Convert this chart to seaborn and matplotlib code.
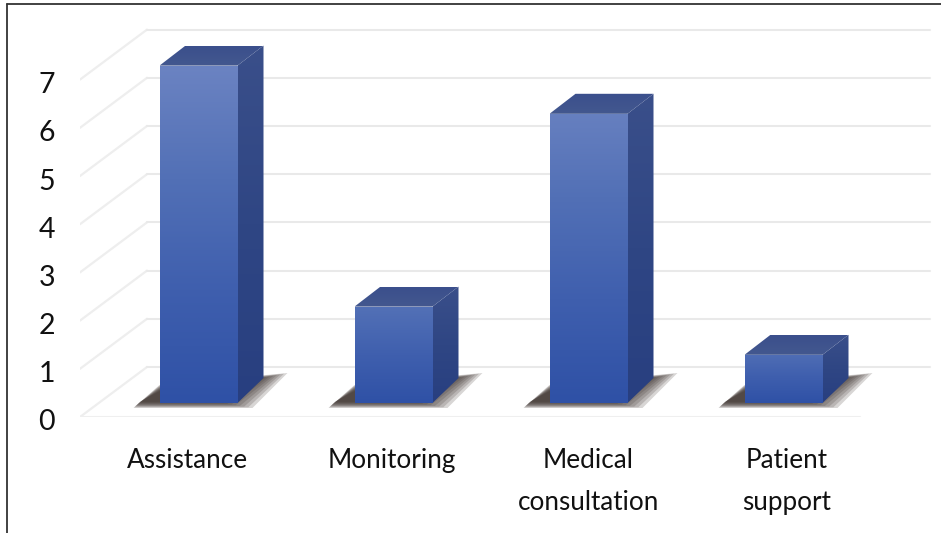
import numpy as np
import pandas as pd
import matplotlib
matplotlib.use('Agg')
import matplotlib.pyplot as plt
import seaborn as sns
from matplotlib.colors import LinearSegmentedColormap
from matplotlib.lines import Line2D
from matplotlib.patches import Polygon
from matplotlib.transforms import ScaledTranslation

categories = ['Assistance', 'Monitoring', 'Medical\nconsultation', 'Patient\nsupport']
values = [7, 2, 6, 1]
y_ticks = [0, 1, 2, 3, 4, 5, 6, 7]

# one category is 195 px wide, one unit is 48.2 px tall
XPX = 1 / 195
YPX = 1 / 48.2
BAR_LIFT = 14 * YPX  # bars stand a little behind the front edge of the floor

sns.set_theme(style='white')
plt.rcParams['font.family'] = ['Lato', 'DejaVu Sans']

df = pd.DataFrame({'category': categories, 'value': values})

fig = plt.figure(figsize=(9.41, 5.33), dpi=100)
ax = fig.add_axes([80 / 941, 1 - 417 / 533, 860 / 941, 397 / 533])
sns.barplot(data=df, x='category', y='value', color='#3f5fae', width=0.4,
            bottom=BAR_LIFT, ax=ax, zorder=3, saturation=1, linewidth=0)

xlim = (-118.5 * XPX, 741.5 * XPX)
ylim = (0, 397 * YPX)


def fade(colors):
    return LinearSegmentedColormap.from_list('fade', colors)


def paint(poly, cmap, zorder, start=0.0):
    # vertical gradient clipped to the polygon
    pts = np.array(poly)
    patch = Polygon(pts, closed=True, facecolor='none', edgecolor='none', zorder=zorder)
    ax.add_patch(patch)
    grad = np.linspace(start, 1, 128).reshape(-1, 1)
    im = ax.imshow(grad, cmap=cmap, vmin=0, vmax=1, aspect='auto', zorder=zorder,
                   interpolation='bilinear', origin='upper',
                   extent=(pts[:, 0].min(), pts[:, 0].max(), pts[:, 1].min(), pts[:, 1].max()))
    im.set_clip_path(patch)


# grid: front edge, then the lines along the back wall
depth_x = 67 * XPX
depth_y = 50 * YPX
for v in y_ticks:
    ax.plot([xlim[0], xlim[0] + depth_x], [v, v + depth_y], color='#eeeeee', lw=1.6, zorder=1)
    ax.plot([xlim[0] + depth_x, xlim[1] - 10 * XPX], [v + depth_y, v + depth_y],
            color='#e9e9e9', lw=1.5, zorder=1)
ax.plot([xlim[0], xlim[1] - 80 * XPX], [0, 0], color='#efefef', lw=1.5, zorder=1)

front_cmap = fade(['#6b83c2', '#5270b6', '#3f5fae', '#2f51a6'])
side_cmap = fade(['#3a4f8a', '#2f4684', '#283f80'])
top_cmap = fade(['#3b4f8c', '#43588f'])

for bar in list(ax.patches):
    x0 = bar.get_x()
    x1 = x0 + bar.get_width()
    y0 = bar.get_y()
    y1 = y0 + bar.get_height()
    dx = 26 * XPX
    dy = 20 * YPX

    # floor shadow, many faint layers so the rim and the far tip go soft
    for k in range(10):
        grow = 4 - k * 0.7
        tip = 50 - k * 3.5
        gx = grow * XPX
        gy = grow * YPX
        ax.add_patch(Polygon([(x0 - 22 * XPX - gx, y0 - 1 * YPX - gy),
                              (x0, y0 + 14 * YPX + gy),
                              (x1 + tip * XPX, y0 + 26 * YPX + gy),
                              (x1 + (tip - 39) * XPX + gx, y0 - 1 * YPX - gy)],
                             closed=True, facecolor='#3f3531', edgecolor='none',
                             alpha=0.2, zorder=2))

    # short bars only show the lower, darker part of the gradient
    start = 0.45 * (1 - bar.get_height() / max(values))
    paint([(x0, y0), (x1, y0), (x1, y1), (x0, y1)], front_cmap, 4, start)
    paint([(x1, y0), (x1, y1), (x1 + dx, y1 + dy), (x1 + dx, y0 + 25 * YPX)], side_cmap, 4)
    paint([(x0, y1), (x1, y1), (x1 + dx, y1 + dy), (x0 + dx, y1 + dy)], top_cmap, 4)

ax.set_xlim(xlim)
ax.set_ylim(ylim)
ax.set_xlabel('')
ax.set_ylabel('')
ax.set_yticks(y_ticks)
ax.set_facecolor('none')
ax.tick_params(axis='y', length=0, pad=18, labelsize=20.5, labelcolor='#111111')
ax.tick_params(axis='x', length=0, pad=22, labelsize=18.8, labelcolor='#111111')
for lab in ax.get_xticklabels():
    lab.set_linespacing(1.87)
# the first labels sit a bit left of their bars in the original
for lab, shift in zip(ax.get_xticklabels(), [-11, -2, 0, 3]):
    lab.set_transform(lab.get_transform() + ScaledTranslation(shift / 100, 0, fig.dpi_scale_trans))
for lab in ax.get_yticklabels():
    lab.set_transform(lab.get_transform() + ScaledTranslation(0, -3 / 100, fig.dpi_scale_trans))
sns.despine(ax=ax, left=True, bottom=True)

# frame around the picture, only left and top
fig.add_artist(Line2D([6.5 / 941, 6.5 / 941], [0, 1 - 3.5 / 533], color='#333333', lw=1.3))
fig.add_artist(Line2D([6.5 / 941, 1], [1 - 3.5 / 533, 1 - 3.5 / 533], color='#333333', lw=1.3))

fig.savefig('out.png', dpi=100)
